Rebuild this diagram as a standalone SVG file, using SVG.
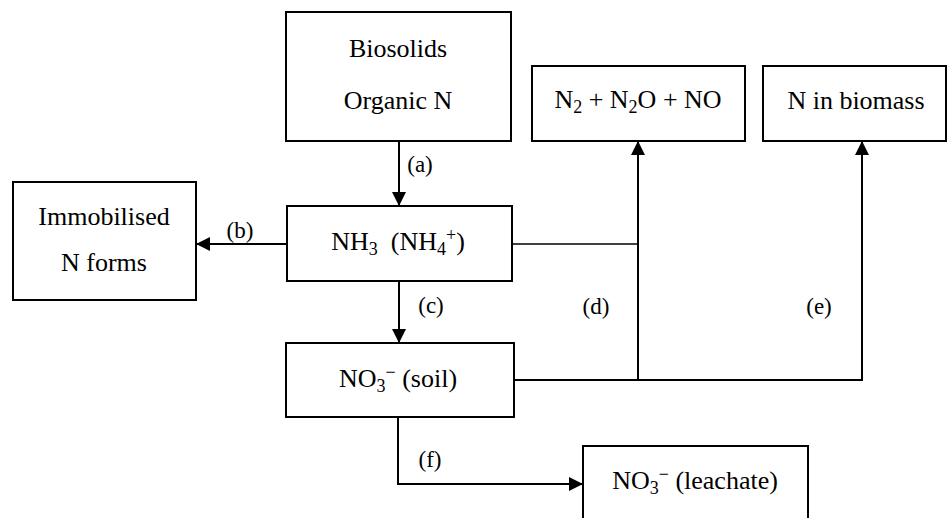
<svg xmlns="http://www.w3.org/2000/svg" width="948" height="518" viewBox="0 0 948 518">
<style>
.box{fill:#fff;stroke:#000;stroke-width:2}
.t{font-family:'Liberation Serif','Times New Roman',Times,serif;font-size:26px;fill:#000;text-anchor:middle}
.l{font-family:'Liberation Serif','Times New Roman',Times,serif;font-size:23px;fill:#000;text-anchor:middle}
.c{fill:none;stroke:#000;stroke-width:2}
.cn{fill:none;stroke:#000;stroke-width:1.5}
</style>
<defs>
<marker id="ah" markerWidth="14" markerHeight="14" refX="14" refY="7" orient="auto" markerUnits="userSpaceOnUse">
<path d="M0,0 L14,7 L0,14 z" fill="#000"/>
</marker>
</defs>
<rect width="948" height="518" fill="#fff"/>
<g id="connectors">
<line class="c" x1="399" y1="141" x2="399" y2="206" marker-end="url(#ah)"/>
<line class="c" x1="287" y1="244" x2="196" y2="244" marker-end="url(#ah)"/>
<line class="c" x1="399" y1="281" x2="399" y2="343" marker-end="url(#ah)"/>
<line class="cn" x1="512" y1="244" x2="638" y2="244"/>
<line class="c" x1="514" y1="380" x2="862" y2="380"/>
<line class="c" x1="638" y1="381" x2="638" y2="141" marker-end="url(#ah)"/>
<polyline class="c" points="861,380 862,380 862,141" marker-end="url(#ah)"/>
<polyline class="c" points="398,417 398,484 583,484" marker-end="url(#ah)"/>
<text class="l" x="420" y="172">(a)</text>
<text class="l" x="240" y="238">(b)</text>
<text class="l" x="431" y="313">(c)</text>
<text class="l" x="596" y="314">(d)</text>
<text class="l" x="819" y="314">(e)</text>
<text class="l" x="430" y="467">(f)</text>
</g>
<g id="biosolids">
<rect class="box" x="286" y="12" width="225" height="129"/>
<text class="t" x="398" y="57">Biosolids</text>
<text class="t" x="398" y="109">Organic N</text>
</g>
<g id="gases">
<rect class="box" x="532" y="66" width="213" height="75"/>
<text class="t" x="638" y="108">N<tspan font-size="18" dy="5">2</tspan><tspan dy="-5"> + N</tspan><tspan font-size="18" dy="5">2</tspan><tspan dy="-5">O + NO</tspan></text>
</g>
<g id="biomass">
<rect class="box" x="763" y="66" width="183" height="75"/>
<text class="t" x="856" y="109">N in biomass</text>
</g>
<g id="immobilised">
<rect class="box" x="13" y="182" width="183" height="118"/>
<text class="t" x="104" y="225">Immobilised</text>
<text class="t" x="104" y="271">N forms</text>
</g>
<g id="ammonia">
<rect class="box" x="287" y="206" width="225" height="75"/>
<text class="t" x="398" y="250">NH<tspan font-size="18" dy="5">3</tspan><tspan dy="-5" xml:space="preserve">  (NH</tspan><tspan font-size="18" dy="5">4</tspan><tspan font-size="18" dy="-14">+</tspan><tspan dy="9">)</tspan></text>
</g>
<g id="nitrate-soil">
<rect class="box" x="286" y="343" width="228" height="74"/>
<text class="t" x="398" y="387">NO<tspan font-size="18" dy="5">3</tspan><tspan font-size="18" dy="-14">−</tspan><tspan dy="9"> (soil)</tspan></text>
</g>
<g id="nitrate-leachate">
<rect class="box" x="583" y="446" width="225" height="80"/>
<text class="t" x="695" y="489">NO<tspan font-size="18" dy="5">3</tspan><tspan font-size="18" dy="-14">−</tspan><tspan dy="9"> (leachate)</tspan></text>
</g>
</svg>
